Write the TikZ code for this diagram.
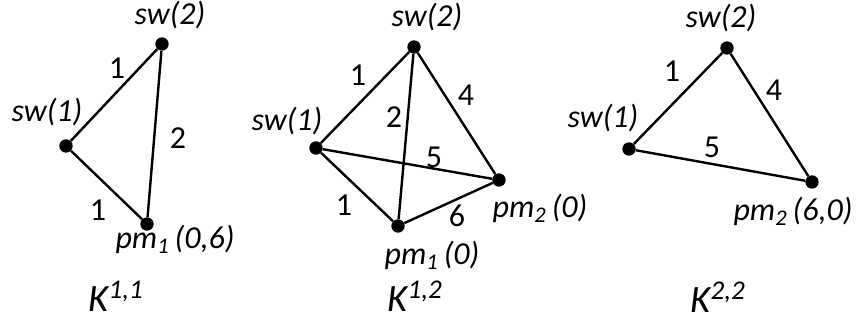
\documentclass[tikz,border=0pt]{standalone}
\usepackage{fontspec}
\setmainfont{Carlito}
\usetikzlibrary{positioning}
\tikzset{
  vtx/.style={circle, fill=black, inner sep=0pt, minimum size=10pt},
  lbl/.style={font=\fontsize{24}{28}\selectfont\itshape, inner sep=0pt},
  wgt/.style={font=\fontsize{24}{28}\selectfont, inner sep=0pt},
  ttl/.style={font=\fontsize{29}{32}\selectfont\itshape, inner sep=0pt, anchor=base},
  edge/.style={line width=1.8pt}
}
\begin{document}
\begin{tikzpicture}[x=0.75pt, y=-0.75pt]
    \useasboundingbox (0, 0) rectangle (859, 320);

    % K^{1,1}
    \node[vtx] (a1) at (66,  146) {};
    \node[vtx] (a2) at (162, 44)  {};
    \node[vtx] (ap) at (147, 224) {};
    \draw[edge] (a1) -- (a2) -- (ap) -- (a1);
    \node[lbl] (a1l) at (47,  112) {sw(1)};
    \node[lbl] (a2l) at (170, 15)  {sw(2)};
    \node[lbl] (apl) at (175, 239) {pm\textsubscript{1}\,(0,6)};
    \node[wgt] (wa12) at (117, 68)  {1};
    \node[wgt] (wa2p) at (178, 138) {2};
    \node[wgt] (wa1p) at (98,  210) {1};
    \node[ttl] (ka)  at (116, 311) {K\textsuperscript{1,1}};

    % K^{1,2}
    \node[vtx] (b1) at (316, 148) {};
    \node[vtx] (b2) at (414, 47)  {};
    \node[vtx] (bp) at (398, 226) {};
    \node[vtx] (bq) at (499, 180) {};
    \draw[edge] (b1) -- (b2) -- (bq) -- (bp) -- (b1);
    \draw[edge] (b2) -- (bp);
    \draw[edge] (b1) -- (bq);
    \node[lbl] (b1l) at (287, 121) {sw(1)};
    \node[lbl] (b2l) at (427, 17)  {sw(2)};
    \node[lbl] (bpl) at (432, 255) {pm\textsubscript{1}\,(0)};
    \node[lbl] (bql) at (540, 208) {pm\textsubscript{2}\,(0)};
    \node[wgt] (wb12) at (358, 75)  {1};
    \node[wgt] (wb2p) at (394, 117) {2};
    \node[wgt] (wb2q) at (466, 95)  {4};
    \node[wgt] (wb1q) at (434, 157) {5};
    \node[wgt] (wb1p) at (344, 205) {1};
    \node[wgt] (wbpq) at (457, 216) {6};
    \node[ttl] (kb)  at (415, 311) {K\textsuperscript{1,2}};

    % K^{2,2}
    \node[vtx] (c1) at (629, 149) {};
    \node[vtx] (c2) at (727, 48)  {};
    \node[vtx] (cq) at (812, 182) {};
    \draw[edge] (c1) -- (c2) -- (cq) -- (c1);
    \node[lbl] (c1l) at (603, 118) {sw(1)};
    \node[lbl] (c2l) at (721, 18)  {sw(2)};
    \node[lbl] (cql) at (793, 211) {pm\textsubscript{2}\,(6,0)};
    \node[wgt] (wc12) at (672, 71)  {1};
    \node[wgt] (wc2q) at (774, 90)  {4};
    \node[wgt] (wc1q) at (712, 147) {5};
    \node[ttl] (kc)  at (718, 312) {K\textsuperscript{2,2}};
\end{tikzpicture}
\end{document}
